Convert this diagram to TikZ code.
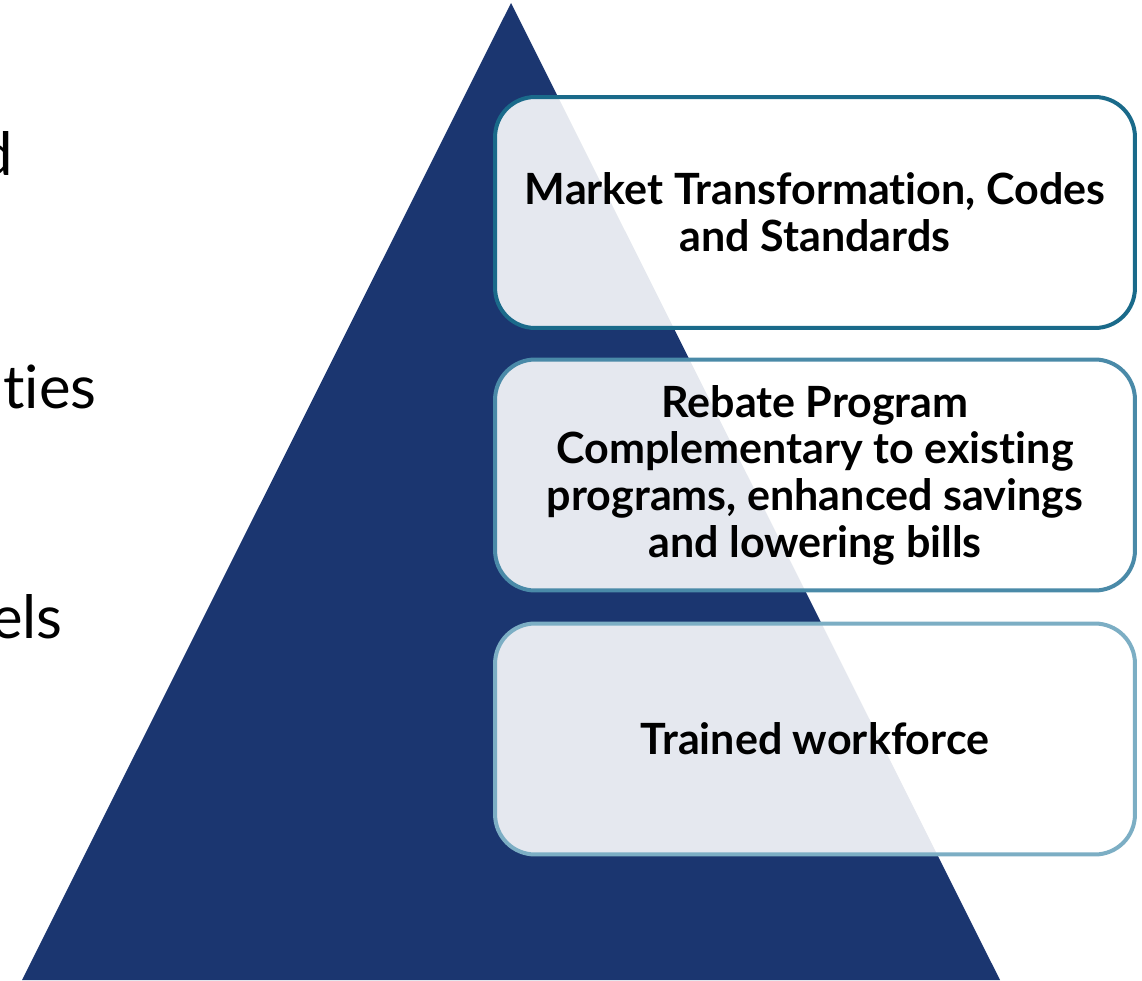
\documentclass[tikz,border=0pt]{standalone}
\usepackage{fontspec}
\setmainfont{Lato}[Ligatures=CommonOff]
\usetikzlibrary{positioning}
\definecolor{pyramidnavy}{RGB}{27,54,112}
\definecolor{topborder}{RGB}{26,106,138}
\definecolor{midborder}{RGB}{74,138,168}
\definecolor{lowborder}{RGB}{124,174,196}
\tikzset{
    tier/.style={draw, line width=0.08cm, rounded corners=0.8cm, fill=white, fill opacity=0.89, text opacity=1, text=black, font=\fontsize{24.5}{26.6}\selectfont\bfseries, align=center, minimum width=12.8cm, minimum height=4.62cm, inner sep=0pt},
    cuttext/.style={anchor=base east, text=black, font=\fontsize{34}{40}\selectfont, inner sep=0pt}
}
\begin{document}
\begin{tikzpicture}[x=0.02cm, y=-0.02cm]
\useasboundingbox (0,0) rectangle (1142,980);

% Pyramid
\fill[pyramidnavy] (511,3) coordinate (apex) -- (1000,980) coordinate (baseR) -- (22,980) coordinate (baseL) -- cycle;

% Cut-off labels on the left
\node[cuttext] (lblA) at (13,175) {d};
\node[cuttext] (lblB) at (97,408) {ties};
\node[cuttext] (lblC) at (63,638) {els};

% Tier boxes
\node[tier, draw=topborder] (TOP) at (815,212.5) {Market Transformation, Codes\\and Standards};
\node[tier, draw=midborder] (MID) at (815,475) {Rebate Program\\Complementary to existing\\programs, enhanced savings\\and lowering bills};
\node[tier, draw=lowborder] (LOW) at (815,739) {Trained workforce};

\end{tikzpicture}
\end{document}
